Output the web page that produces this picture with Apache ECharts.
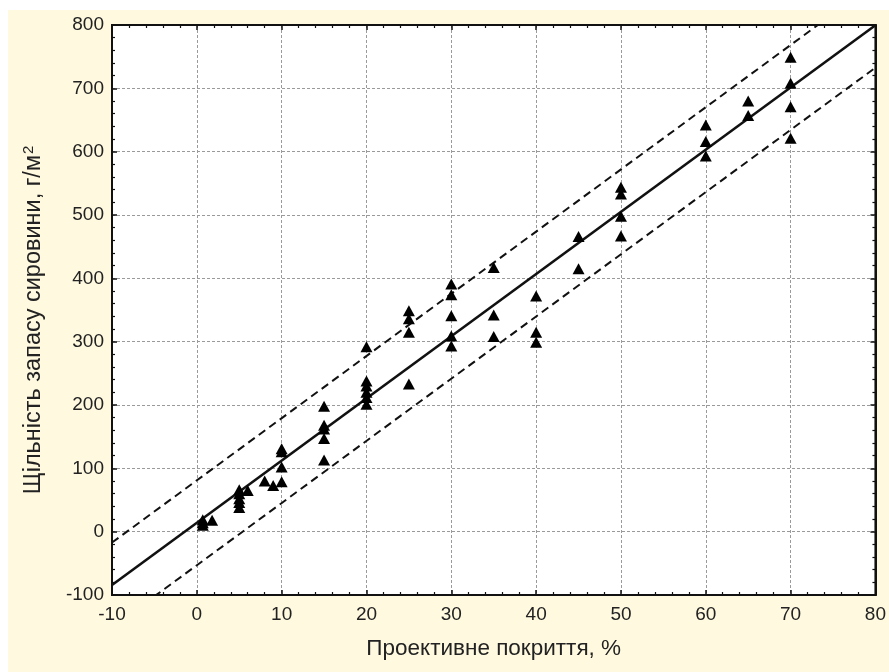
<!DOCTYPE html>
<html>
<head>
<meta charset="utf-8">
<script src="https://cdn.jsdelivr.net/npm/echarts@6/dist/echarts.min.js"></script>
<style>
  html, body { margin: 0; padding: 0; background: #fff; }
  #bg { position: absolute; left: 8px; top: 10px; right: 0; bottom: 0; background: #FEF9DF; }
  #app { position: absolute; left: 0; top: 0; width: 889px; height: 672px; }
</style>
</head>
<body>
<div id="bg"></div>
<div id="app"></div>
<script>
// observed points: cover (%) and raw material density (g/m2)
var coverX = [0.7, 0.7, 0.7, 1.8,
    5, 5, 5, 5, 5, 6,
    8, 9,
    10, 10, 10, 10,
    15, 15, 15, 15, 15,
    20, 20, 20, 20, 20, 20,
    25, 25, 25, 25,
    30, 30, 30, 30, 30,
    35, 35, 35,
    40, 40, 40,
    45, 45,
    50, 50, 50, 50,
    60, 60, 60,
    65, 65,
    70, 70, 70, 70];
var densityY = [10, 14, 19, 18,
    38, 46, 52, 60, 66, 65,
    80, 73,
    79, 102, 126, 131,
    113, 147, 162, 168, 198,
    201, 212, 220, 230, 238, 292,
    233, 315, 336, 349,
    293, 309, 341, 374, 391,
    308, 342, 417,
    299, 315, 372,
    415, 466,
    467, 498, 533, 544,
    593, 616, 642,
    657, 680,
    621, 671, 708, 749];

// fitted line and band
var fitIntercept = 14;
var fitSlope = 9.82;
var bandHalf = 67;
var lineX = [-10, 80];

var xLabels = ['-10', '0', '10', '20', '30', '40', '50', '60', '70', '80'];

var points = coverX.map(function (x, i) { return [x, densityY[i]]; });
var fitLine = lineX.map(function (x) { return [x, fitIntercept + fitSlope * x]; });
var upperLine = lineX.map(function (x) { return [x, fitIntercept + fitSlope * x + bandHalf]; });
var lowerLine = lineX.map(function (x) { return [x, fitIntercept + fitSlope * x - bandHalf]; });

var font = '"Liberation Sans", Arial, sans-serif';
var ink = '#111';

function frameAxis(pos, min, max, interval, isX, main) {
    var a = {
        type: 'value',
        position: pos,
        min: min,
        max: max,
        interval: interval,
        axisLine: { show: true, onZero: false, lineStyle: { color: ink, width: 2 } },
        axisTick: { show: true, inside: true, length: 5, lineStyle: { color: ink, width: 1.5 } },
        minorTick: { show: true, splitNumber: 5, length: 3, lineStyle: { color: ink, width: 1.2 } },
        splitLine: { show: false },
        axisLabel: { show: false }
    };
    if (main) {
        a.splitLine = { show: true, lineStyle: { color: '#9a9a9a', width: 1, type: [3, 2] } };
        a.axisLabel = { show: true, color: '#222', fontSize: 19, fontFamily: font, margin: isX ? 10 : 8 };
        if (isX) {
            a.axisLabel.formatter = function (v) { return xLabels[Math.round((v - min) / interval)] || String(v); };
        }
    }
    return a;
}

var xMain = frameAxis('bottom', -10, 80, 10, true, true);
xMain.name = 'Проективне покриття, %';
xMain.nameLocation = 'middle';
xMain.nameGap = 42;
xMain.nameTextStyle = { color: '#222', fontSize: 22.5, fontFamily: font };

var yMain = frameAxis('left', -100, 800, 100, false, true);
yMain.name = '{n|Щільність запасу сировини, г/м}{s|2}';
yMain.nameLocation = 'middle';
yMain.nameGap = 66;
yMain.nameTextStyle = {
    color: '#222', fontSize: 23.5, fontFamily: font, padding: [0, 20, 0, 0],
    rich: {
        n: { color: '#222', fontSize: 23.5, fontFamily: font },
        s: { color: '#222', fontSize: 15, fontFamily: font, verticalAlign: 'top', padding: [0, 0, 10, 1] }
    }
};

var xTop = frameAxis('top', -10, 80, 10, true, false);
var yRight = frameAxis('right', -100, 800, 100, false, false);

var chart = echarts.init(document.getElementById('app'), null, { renderer: 'canvas' });
chart.setOption({
    backgroundColor: 'transparent',
    animation: false,
    grid: {
        left: 112, right: 12, top: 25, bottom: 77,
        show: true, backgroundColor: '#fff', borderColor: ink, borderWidth: 2
    },
    xAxis: [xMain, xTop],
    yAxis: [yMain, yRight],
    series: [
        {
            type: 'line', data: upperLine, symbol: 'none', clip: true,
            lineStyle: { color: ink, width: 2, type: [8, 5] }
        },
        {
            type: 'line', data: lowerLine, symbol: 'none', clip: true,
            lineStyle: { color: ink, width: 2, type: [8, 5] }
        },
        {
            type: 'line', data: fitLine, symbol: 'none', clip: true,
            lineStyle: { color: ink, width: 2.6 }
        },
        {
            type: 'scatter', data: points, symbol: 'triangle', symbolSize: [12, 11],
            itemStyle: { color: '#000', opacity: 1 }, z: 5
        }
    ]
});
addEventListener('resize', function () { chart.resize(); });
</script>
</body>
</html>
